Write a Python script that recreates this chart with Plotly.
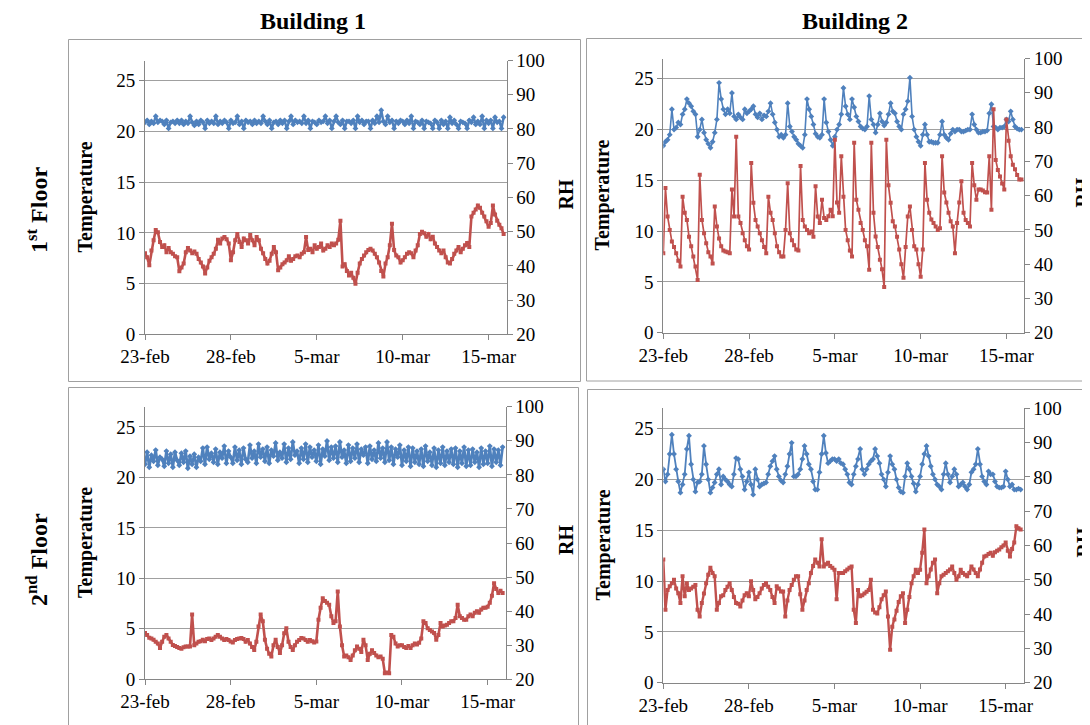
import pandas as pd
import plotly.graph_objects as go

# ---------------- data ----------------
timestamps = pd.date_range("2013-02-23 00:00", periods=168, freq="3h")
tick_dates = ["2013-02-23", "2013-02-28", "2013-03-05", "2013-03-10", "2013-03-15"]
tick_labels = ["23-feb", "28-feb", "5-mar", "10-mar", "15-mar"]
temp_ticks = [0, 5, 10, 15, 20, 25]
rh_ticks = [20, 30, 40, 50, 60, 70, 80, 90, 100]
building_titles = ["Building 1", "Building 2"]
floor_titles = ["1<sup>st</sup> Floor", "2<sup>nd</sup> Floor"]

b1_f1_temp = [
    20.9, 21.1, 20.7, 21.0, 20.8, 21.5, 20.9, 21.1,
    21.0, 20.7, 21.1, 20.3, 20.9, 21.0, 20.8, 21.1,
    20.8, 21.1, 20.7, 21.0, 20.8, 21.5, 20.9, 20.6,
    21.0, 20.7, 21.1, 20.9, 20.3, 21.1, 20.8, 21.0,
    20.8, 21.5, 20.7, 21.0, 20.8, 21.1, 20.9, 20.3,
    21.1, 20.8, 20.9, 21.5, 20.7, 21.0, 20.3, 21.1,
    20.9, 21.0, 20.7, 21.1, 20.8, 21.0, 20.8, 21.5,
    21.0, 20.7, 21.1, 20.3, 20.9, 21.0, 20.7, 21.1,
    20.8, 21.1, 20.3, 21.0, 21.5, 20.7, 21.1, 20.9,
    21.0, 20.8, 21.5, 20.8, 21.1, 20.3, 21.0, 20.9,
    20.7, 21.1, 20.9, 21.0, 21.5, 20.8, 21.1, 20.3,
    21.0, 21.5, 20.9, 20.7, 21.1, 20.3, 21.0, 21.0,
    20.8, 21.1, 20.3, 21.5, 20.9, 21.1, 20.7, 21.0,
    21.0, 20.3, 21.1, 20.8, 21.5, 20.9, 22.1, 21.0,
    20.7, 21.5, 20.9, 21.1, 20.3, 21.0, 20.8, 21.1,
    21.0, 20.7, 21.1, 20.8, 21.5, 20.3, 21.0, 20.9,
    20.7, 21.1, 20.3, 21.0, 20.9, 20.8, 20.3, 21.1,
    20.9, 20.3, 21.1, 20.7, 21.0, 20.3, 21.4, 20.8,
    21.1, 20.7, 20.3, 21.0, 20.9, 20.8, 20.3, 21.1,
    20.9, 21.4, 20.7, 21.0, 20.7, 21.5, 20.3, 21.1,
    20.8, 21.1, 20.3, 21.4, 20.9, 21.0, 20.3, 21.4,
]
b1_f1_rh = [
    43.7, 42.5, 40.2, 44.5, 47.5, 50.5, 49.8, 47.0,
    45.5, 46.0, 44.0, 45.2, 44.0, 43.5, 42.8, 42.5,
    38.4, 39.5, 40.7, 44.0, 45.2, 44.5, 43.7, 44.2,
    43.5, 42.0, 41.0, 39.8, 37.8, 39.5, 41.5, 42.5,
    43.5, 45.0, 47.6, 46.5, 48.0, 48.4, 47.8, 46.5,
    41.6, 44.0, 47.5, 49.3, 47.0, 45.5, 48.0, 47.5,
    46.5, 49.0, 47.5, 46.0, 48.4, 47.5, 45.0, 43.7,
    42.0, 40.7, 41.5, 43.5, 45.5, 44.0, 38.7, 39.5,
    40.5, 41.0, 41.6, 42.8, 41.5, 42.0, 42.8, 43.0,
    42.5, 43.5, 44.0, 48.4, 44.6, 45.0, 44.0, 46.0,
    45.0, 45.5, 46.5, 44.5, 45.0, 46.0, 45.5, 46.5,
    46.0, 46.5, 47.6, 53.2, 39.8, 40.5, 38.5, 37.2,
    38.0, 36.5, 34.8, 38.0, 40.7, 42.0, 43.0, 44.0,
    44.6, 45.0, 44.5, 43.5, 42.5, 41.0, 38.5, 36.9,
    40.7, 42.5, 46.0, 52.3, 44.6, 43.0, 42.5, 41.0,
    41.6, 42.5, 43.5, 44.0, 43.7, 42.5, 44.5, 46.0,
    49.3, 50.0, 49.5, 48.5, 49.3, 47.8, 48.5, 46.5,
    45.5, 44.5, 43.7, 44.5, 42.5, 41.0, 40.7, 42.0,
    43.5, 44.5, 45.5, 44.0, 45.0, 46.0, 46.7, 45.5,
    54.4, 55.5, 56.5, 57.6, 57.0, 55.5, 54.4, 53.0,
    51.4, 52.5, 57.6, 55.0, 53.2, 52.0, 51.0, 49.3,
]
b2_f1_temp = [
    18.4, 18.8, 19.0, 19.5, 22.0, 20.0, 20.2, 20.7,
    20.5, 21.5, 22.0, 23.0, 22.6, 22.3, 21.8, 21.5,
    19.3, 20.0, 21.0, 19.7, 19.0, 18.6, 18.2, 18.8,
    19.7, 21.0, 24.6, 23.0, 22.0, 21.5, 22.0, 21.6,
    23.6, 21.3, 21.0, 21.5, 21.2, 21.0, 22.0, 21.6,
    21.8, 22.0, 22.3, 21.5, 21.2, 21.6, 21.0, 21.4,
    21.3, 21.8, 22.6, 21.5, 20.7, 20.0, 19.3, 19.5,
    19.2, 19.5, 22.6, 20.3, 19.8, 19.3, 19.0, 18.6,
    18.4, 18.2, 19.5, 23.0, 22.0, 21.3, 20.5, 19.6,
    19.3, 19.2, 19.5, 23.0, 20.7, 19.8, 19.0, 18.4,
    19.3, 20.0, 20.5, 21.5, 24.1, 22.3, 21.5, 21.0,
    23.0, 22.2, 21.3, 20.8, 20.3, 20.1, 20.0, 20.3,
    23.3, 21.0, 20.5, 19.7, 20.5, 21.6, 20.8, 20.4,
    20.7, 21.5, 22.6, 21.8, 21.6, 20.8, 20.3, 20.0,
    21.5, 22.0, 22.8, 25.1, 21.3, 20.0, 19.3, 18.8,
    18.4, 19.5, 20.5, 19.5, 18.8, 18.8, 18.7, 18.7,
    18.7, 19.5, 20.8, 19.5, 19.2, 19.0, 19.6, 20.0,
    19.8, 20.0, 20.0, 19.8, 19.8, 19.9, 20.0, 20.0,
    21.5, 20.5, 20.0, 19.7, 19.7, 19.8, 19.8, 19.9,
    21.6, 22.5, 20.3, 20.2, 20.0, 20.2, 20.2, 20.3,
    21.0, 20.8, 21.8, 21.0, 20.3, 20.1, 20.0, 20.0,
]
b2_f1_rh = [
    43.2, 62.2, 53.9, 50.0, 46.6, 45.0, 43.2, 41.0,
    39.3, 59.7, 55.0, 52.9, 48.0, 45.2, 42.2, 39.3,
    35.4, 66.1, 52.9, 49.0, 46.1, 43.5, 42.2, 40.2,
    56.8, 51.0, 47.5, 45.2, 44.0, 43.7, 43.5, 43.2,
    61.8, 53.9, 77.2, 53.9, 52.0, 49.0, 47.0, 45.2,
    44.3, 69.5, 57.9, 52.9, 51.0, 49.0, 47.0, 45.0,
    43.2, 59.7, 55.0, 52.9, 49.0, 45.2, 43.5, 42.2,
    42.2, 50.0, 63.6, 49.0, 47.0, 45.5, 44.3, 44.0,
    68.6, 52.9, 51.0, 50.0, 49.0, 49.5, 48.0, 62.7,
    53.9, 52.0, 58.8, 53.5, 52.9, 54.0, 55.9, 54.0,
    76.3, 58.0, 55.0, 71.5, 59.7, 50.0, 47.0, 44.0,
    42.2, 75.4, 58.8, 55.9, 52.0, 50.0, 47.0, 45.2,
    38.4, 75.4, 55.0, 48.1, 45.0, 41.3, 38.5, 33.3,
    76.3, 63.0, 57.9, 52.5, 51.0, 48.0, 44.3, 40.0,
    36.0, 45.0, 53.9, 56.8, 50.0, 45.2, 44.3, 40.0,
    36.3, 44.3, 69.5, 58.8, 55.0, 53.0, 52.0, 51.0,
    50.0, 50.5, 71.5, 60.9, 58.0, 55.0, 52.5, 51.0,
    43.2, 52.0, 58.0, 64.2, 55.0, 52.9, 52.0, 51.0,
    69.5, 63.0, 58.8, 61.8, 61.8, 61.5, 61.0, 60.9,
    71.5, 55.9, 85.2, 70.4, 67.5, 65.6, 63.5, 61.8,
    82.2, 76.0, 71.5, 69.0, 67.7, 66.0, 64.7, 64.7,
]
b1_f2_temp = [
    21.3, 22.5, 21.0, 22.2, 21.6, 22.7, 21.2, 22.0,
    21.8, 21.1, 22.6, 21.4, 22.3, 21.0, 22.5, 21.7,
    21.2, 22.4, 21.5, 22.6, 20.9, 22.1, 21.3, 22.3,
    21.0, 22.0, 21.6, 22.9, 21.3, 23.0, 21.8, 22.4,
    21.5, 22.8, 21.3, 22.5, 21.9, 23.1, 21.4, 22.6,
    22.0, 21.4, 23.0, 21.7, 22.7, 21.3, 22.9, 21.8,
    21.5, 23.2, 21.9, 22.6, 21.4, 23.3, 22.0, 22.8,
    21.6, 23.0, 21.4, 22.7, 22.1, 23.4, 21.7, 22.5,
    21.9, 23.3, 21.5, 22.9, 21.8, 23.5, 22.2, 22.6,
    21.4, 22.9, 21.8, 23.3, 21.5, 23.0, 22.0, 22.7,
    21.6, 23.2, 21.3, 22.8, 22.1, 23.6, 21.7, 23.0,
    21.9, 23.1, 21.5, 23.5, 22.0, 22.7, 21.4, 23.2,
    21.6, 22.9, 21.9, 23.3, 21.5, 22.8, 22.2, 23.0,
    21.4, 23.1, 21.8, 22.7, 21.6, 23.4, 21.9, 22.9,
    21.5, 23.5, 21.7, 23.0, 21.3, 22.8, 22.0, 23.2,
    21.2, 22.7, 21.6, 23.0, 21.1, 22.9, 21.5, 22.6,
    21.3, 22.8, 21.1, 23.1, 21.6, 22.5, 21.2, 22.9,
    21.0, 22.7, 21.4, 23.0, 21.2, 22.6, 21.5, 22.8,
    21.3, 22.9, 21.0, 22.6, 21.4, 23.0, 21.1, 22.7,
    21.2, 22.8, 21.5, 22.5, 21.0, 22.9, 21.3, 22.6,
    21.4, 23.1, 21.1, 22.8, 21.5, 22.7, 21.2, 23.0,
]
b1_f2_rh = [
    33.6, 33.0, 32.2, 32.0, 31.6, 31.0, 30.5, 29.2,
    31.0, 32.5, 33.0, 32.0, 31.0, 30.1, 29.8, 29.5,
    29.2, 29.0, 29.4, 29.6, 29.6, 29.6, 39.0, 30.0,
    30.5, 31.0, 31.2, 31.6, 31.2, 31.8, 32.0, 31.5,
    32.0, 32.5, 33.0, 32.5, 32.0, 31.5, 31.8, 31.5,
    31.1, 30.8, 31.5, 31.8, 32.0, 32.1, 31.8, 31.0,
    31.5, 30.5, 29.5, 28.6, 31.0, 35.5, 39.0, 37.0,
    31.6, 29.0, 27.5, 26.7, 30.0, 31.6, 29.5, 27.7,
    30.0, 33.5, 35.0, 31.0, 29.5, 28.6, 30.0, 31.0,
    31.5, 32.1, 32.0, 31.5, 31.0, 31.5, 31.2, 30.8,
    31.1, 37.5, 41.0, 43.8, 43.0, 42.5, 41.9, 38.5,
    36.5, 37.0, 45.8, 35.5, 30.0, 26.7, 27.0, 26.5,
    25.7, 27.0, 28.5, 29.6, 29.0, 28.0, 31.6, 30.0,
    25.7, 27.5, 28.5, 27.7, 27.0, 26.5, 26.7, 26.0,
    21.8, 22.0, 21.8, 33.0, 32.5, 30.5, 29.6, 30.0,
    30.0, 29.5, 29.2, 29.8, 29.2, 30.0, 30.5, 30.2,
    30.7, 32.0, 37.0, 36.5, 35.0, 34.5, 34.0, 33.6,
    31.6, 33.0, 36.5, 35.5, 35.8, 36.0, 36.5, 37.0,
    37.0, 38.0, 41.9, 38.5, 38.0, 37.5, 37.5, 38.5,
    39.0, 38.5, 39.5, 40.0, 39.5, 40.5, 41.0, 41.0,
    41.3, 42.5, 44.5, 48.2, 46.5, 45.3, 46.0, 45.3,
]
b2_f2_temp = [
    21.0, 19.8, 20.5, 22.5, 24.4, 22.5, 21.0, 19.8,
    18.7, 19.5, 20.5, 23.0, 24.3, 21.5, 20.0, 18.8,
    19.7, 19.8, 20.5, 23.3, 21.5, 20.0, 18.7, 19.2,
    19.7, 20.5, 21.0, 19.5, 20.3, 20.0, 19.8, 19.5,
    19.3, 20.5, 22.1, 22.0, 21.0, 20.3, 19.0, 19.8,
    20.7, 19.5, 18.5, 21.0, 20.0, 19.3, 19.5, 19.6,
    19.7, 20.5, 21.3, 21.8, 22.3, 21.0, 20.3, 19.9,
    19.7, 20.5, 21.3, 22.5, 23.6, 20.3, 20.3, 20.5,
    21.0, 22.0, 23.3, 22.5, 21.5, 21.0, 19.8, 19.0,
    19.0, 20.7, 22.5, 24.3, 22.6, 21.6, 21.8, 22.0,
    22.0, 21.8, 22.0, 21.6, 21.5, 21.0, 20.5, 19.7,
    19.5, 20.5, 21.3, 22.0, 23.0, 21.0, 20.5, 21.0,
    21.5, 21.8, 22.0, 23.0, 22.3, 21.6, 20.5, 20.0,
    19.3, 20.7, 22.3, 21.5, 21.0, 20.0, 19.2, 18.8,
    18.7, 20.3, 21.6, 21.0, 20.3, 19.6, 18.8, 19.5,
    20.3, 21.5, 22.5, 23.3, 22.3, 21.3, 20.5, 20.0,
    19.5, 19.3, 19.0, 20.5, 21.6, 20.5, 19.7, 20.3,
    21.0, 20.5, 19.3, 19.5, 19.7, 19.3, 19.0, 19.5,
    20.7, 21.0, 21.5, 23.0, 21.5, 20.3, 19.8, 19.5,
    20.8, 20.5, 20.5, 19.8, 19.3, 19.2, 19.2, 19.3,
    20.8, 20.0, 19.3, 19.5, 19.0, 19.0, 19.1, 19.0,
]
b2_f2_rh = [
    55.9, 41.3, 47.0, 48.1, 49.0, 50.0, 47.5, 46.1,
    43.2, 51.0, 45.2, 49.0, 47.0, 47.5, 48.0, 48.5,
    41.3, 39.3, 43.2, 46.0, 49.0, 51.5, 53.5, 52.0,
    51.0, 41.3, 43.2, 45.2, 45.5, 47.0, 48.0, 49.0,
    47.0, 45.0, 43.2, 43.0, 42.2, 44.0, 45.5, 46.1,
    45.2, 49.6, 47.0, 44.3, 45.0, 46.1, 47.5, 48.5,
    49.0, 48.0, 47.0, 45.0, 43.2, 48.1, 47.5, 46.6,
    46.6, 39.3, 44.0, 47.0, 48.5, 50.0, 51.0, 51.0,
    45.8, 41.3, 44.0, 47.0, 49.0, 52.0, 54.0, 55.9,
    55.0, 53.9, 61.8, 53.9, 54.5, 55.0, 54.0, 53.5,
    52.9, 44.3, 52.0, 52.0, 52.0, 52.5, 53.0, 53.5,
    53.9, 41.3, 37.4, 47.0, 45.2, 45.5, 46.0, 46.5,
    47.0, 50.0, 41.3, 40.5, 40.2, 42.0, 44.3, 45.5,
    46.6, 39.3, 29.6, 36.3, 38.4, 41.0, 43.5, 45.2,
    46.1, 37.4, 41.3, 45.0, 49.0, 51.0, 52.9, 52.0,
    52.9, 57.9, 64.7, 49.0, 51.0, 53.0, 55.0, 55.9,
    46.1, 49.0, 51.0, 51.5, 52.0, 52.5, 53.0, 53.9,
    52.0, 50.0, 51.0, 52.9, 52.0, 51.5, 51.0, 52.0,
    53.9, 53.0, 52.0, 51.0, 53.0, 55.0, 56.8, 57.0,
    57.5, 57.9, 57.0, 58.0, 58.5, 58.8, 59.5, 60.0,
    60.9, 58.5, 56.8, 59.0, 60.9, 65.6, 65.0, 64.7,
]

# ---------------- layout helpers ----------------
# The page body has an 8px margin, so the figure is placed at (8, 8);
# it is sized so that it ends exactly at the 1090x725 window edge.
OFF = 8
W, H = 1090 - OFF, 725 - OFF
FONT = "Liberation Serif"
BLUE = "#4F81BD"
RED = "#C0504D"
AXIS = "#868686"
GRID = "#A0A0A0"


def fx(px):
    return (px - OFF) / W


def fy(py):
    return 1 - (py - OFF) / H


panels = [
    dict(temp=b1_f1_temp, rh=b1_f1_rh, plot=(145, 60.5, 506.5, 334.3),
         box=(68.5, 39.5, 580.5, 381.5), ylab_x=85, rh_x=566, tw=2.4, rw=2.6),
    dict(temp=b2_f1_temp, rh=b2_f1_rh, plot=(663.3, 58.5, 1024.3, 332.7),
         box=(586.5, 38.5, 1100, 381.0), ylab_x=603, rh_x=1083, tw=1.6, rw=1.7),
    dict(temp=b1_f2_temp, rh=b1_f2_rh, plot=(145, 406.7, 505.5, 679.3),
         box=(68.5, 387.5, 578.5, 740), ylab_x=85, rh_x=566, tw=2.6, rw=2.6),
    dict(temp=b2_f2_temp, rh=b2_f2_rh, plot=(663.3, 408.3, 1023.5, 682.7),
         box=(587.5, 389.5, 1100, 740), ylab_x=603, rh_x=1083, tw=1.8, rw=2.4),
]

fig = go.Figure()
layout = dict(
    width=W, height=H, margin=dict(l=0, r=0, t=0, b=0, autoexpand=False),
    paper_bgcolor="white", plot_bgcolor="white", showlegend=False,
    font=dict(family=FONT, size=19, color="black"),
)
shapes = []
annotations = []
tickfont = dict(family=FONT, size=19, color="black")

for i, p in enumerate(panels):
    n = i + 1
    xa = "x" if n == 1 else f"x{n}"
    ya_t = "y" if n == 1 else f"y{2 * n - 1}"
    ya_r = f"y{2 * n}"
    x0, y0, x1, y1 = p["plot"]

    layout["xaxis" if n == 1 else f"xaxis{n}"] = dict(
        domain=[fx(x0), fx(x1)], anchor=ya_t, type="date", automargin=False,
        range=["2013-02-23 00:00", "2013-03-16 01:00"],
        tickvals=tick_dates, ticktext=tick_labels, tickfont=tickfont,
        showline=True, linecolor=AXIS, linewidth=1, ticks="outside",
        ticklen=5, tickcolor=AXIS, showgrid=False, zeroline=False,
    )
    layout["yaxis" if n == 1 else f"yaxis{2 * n - 1}"] = dict(
        domain=[fy(y1), fy(y0)], anchor=xa, range=[0, 27.0], automargin=False,
        tickvals=temp_ticks, tickfont=tickfont, showline=True,
        linecolor=AXIS, linewidth=1, ticks="outside", ticklen=5,
        tickcolor=AXIS, showgrid=True, gridcolor=GRID, gridwidth=1,
        zeroline=False,
    )
    layout[f"yaxis{2 * n}"] = dict(
        domain=[fy(y1), fy(y0)], anchor=xa, overlaying=ya_t, side="right",
        range=[20, 100], tickvals=rh_ticks, tickfont=tickfont, automargin=False,
        showline=True, linecolor=AXIS, linewidth=1, ticks="outside",
        ticklen=5, tickcolor=AXIS, showgrid=False, zeroline=False,
    )

    fig.add_trace(go.Scatter(
        x=timestamps, y=p["temp"], mode="lines+markers", xaxis=xa, yaxis=ya_t,
        line=dict(color=BLUE, width=p["tw"]),
        marker=dict(symbol="diamond", size=4.5, color=BLUE, line=dict(width=0)),
        name="Temperature",
    ))
    fig.add_trace(go.Scatter(
        x=timestamps, y=p["rh"], mode="lines+markers", xaxis=xa, yaxis=ya_r,
        line=dict(color=RED, width=p["rw"]),
        marker=dict(symbol="square", size=4, color=RED, line=dict(width=0)),
        name="RH",
    ))

    bx0, by0, bx1, by1 = p["box"]
    shapes.append(dict(type="rect", xref="paper", yref="paper",
                       x0=fx(bx0), x1=fx(bx1), y0=fy(by1), y1=fy(by0),
                       line=dict(color="#A0A0A0", width=1), layer="below"))

    cy = (y0 + y1) / 2
    annotations.append(dict(
        text="<b>Temperature</b>", xref="paper", yref="paper",
        x=fx(p["ylab_x"]), y=fy(cy), textangle=-90, showarrow=False,
        font=dict(family=FONT, size=20, color="black"),
        xanchor="center", yanchor="middle",
    ))
    annotations.append(dict(
        text="<b>RH</b>", xref="paper", yref="paper",
        x=fx(p["rh_x"]), y=fy(cy - 3), textangle=-90, showarrow=False,
        font=dict(family=FONT, size=20, color="black"),
        xanchor="center", yanchor="middle",
    ))

for j, t in enumerate(building_titles):
    annotations.append(dict(
        text=f"<b>{t}</b>", xref="paper", yref="paper",
        x=fx([313, 855][j]), y=fy(21), showarrow=False,
        font=dict(family=FONT, size=24, color="black"),
        xanchor="center", yanchor="middle",
    ))
for j, t in enumerate(floor_titles):
    annotations.append(dict(
        text=f"<b>{t}</b>", xref="paper", yref="paper",
        x=fx(37), y=fy([210, 560][j]), textangle=-90, showarrow=False,
        font=dict(family=FONT, size=24, color="black"),
        xanchor="center", yanchor="middle",
    ))

layout["shapes"] = shapes
layout["annotations"] = annotations
fig.update_layout(**layout)
fig.write_html("out.html")
